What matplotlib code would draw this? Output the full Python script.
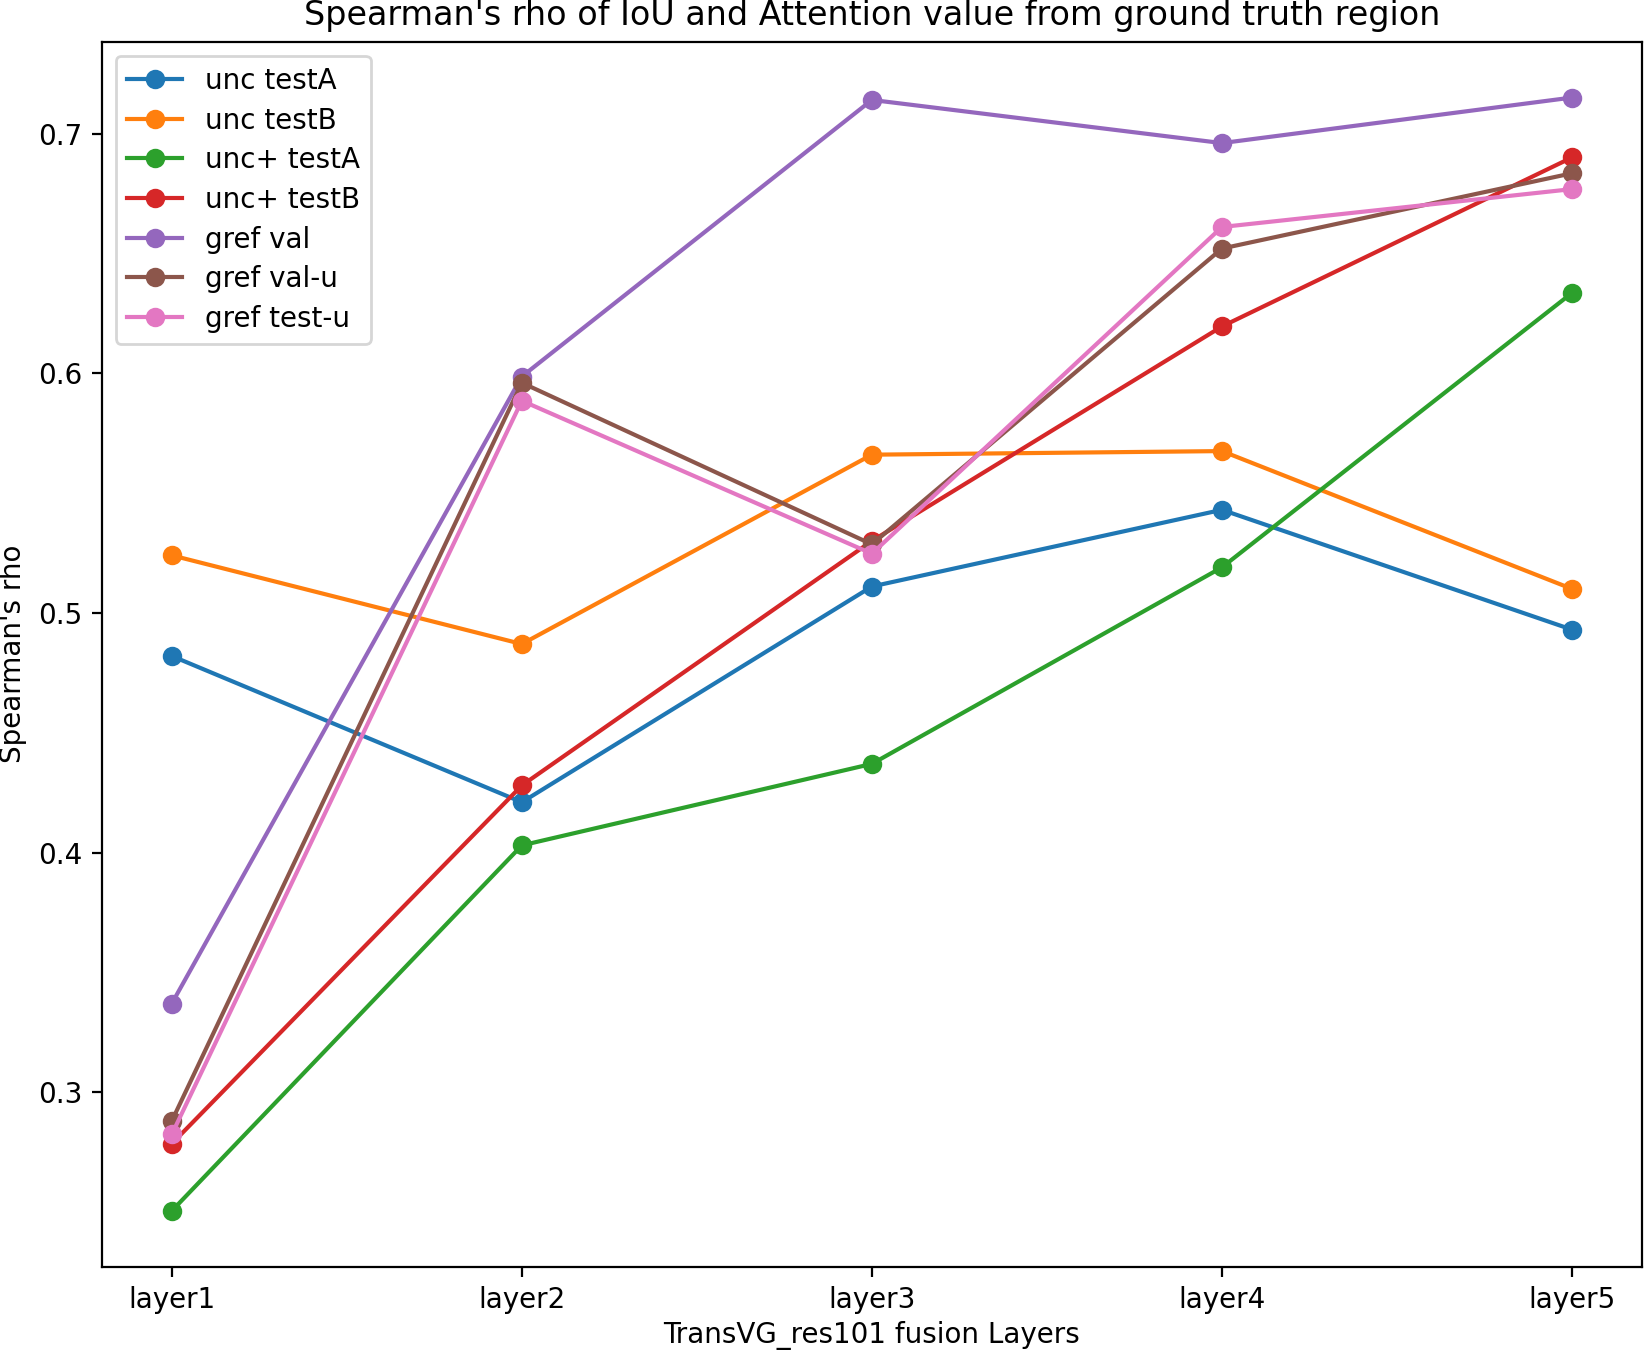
import matplotlib
matplotlib.use("Agg")
import matplotlib.pyplot as plt

layers = ["layer1", "layer2", "layer3", "layer4", "layer5"]

unc_testA = [0.482, 0.421, 0.511, 0.543, 0.493]
unc_testB = [0.524, 0.487, 0.566, 0.5675, 0.510]
uncp_testA = [0.2505, 0.403, 0.437, 0.519, 0.6335]
uncp_testB = [0.2785, 0.428, 0.530, 0.6195, 0.690]
gref_val = [0.337, 0.5986, 0.714, 0.696, 0.715]
gref_valu = [0.288, 0.596, 0.5286, 0.652, 0.6834]
gref_testu = [0.2824, 0.5885, 0.5247, 0.661, 0.6768]

series = [("unc testA", unc_testA), ("unc testB", unc_testB),
          ("unc+ testA", uncp_testA), ("unc+ testB", uncp_testB),
          ("gref val", gref_val), ("gref val-u", gref_valu),
          ("gref test-u", gref_testu)]

fig = plt.figure(figsize=(8.22, 6.755), dpi=200)
ax = fig.add_axes([0.0619, 0.0625, 0.9369, 0.9065])
for name, vals in series:
    ax.plot(layers, vals, marker="o", label=name)

ax.set_title("Spearman's rho of IoU and Attention value from ground truth region")
ax.set_xlabel("TransVG_res101 fusion Layers", labelpad=2.5)
ax.set_ylabel("Spearman's rho")
ax.legend(loc="upper left", labelspacing=0.42)
plt.savefig("out.png", dpi=200)
